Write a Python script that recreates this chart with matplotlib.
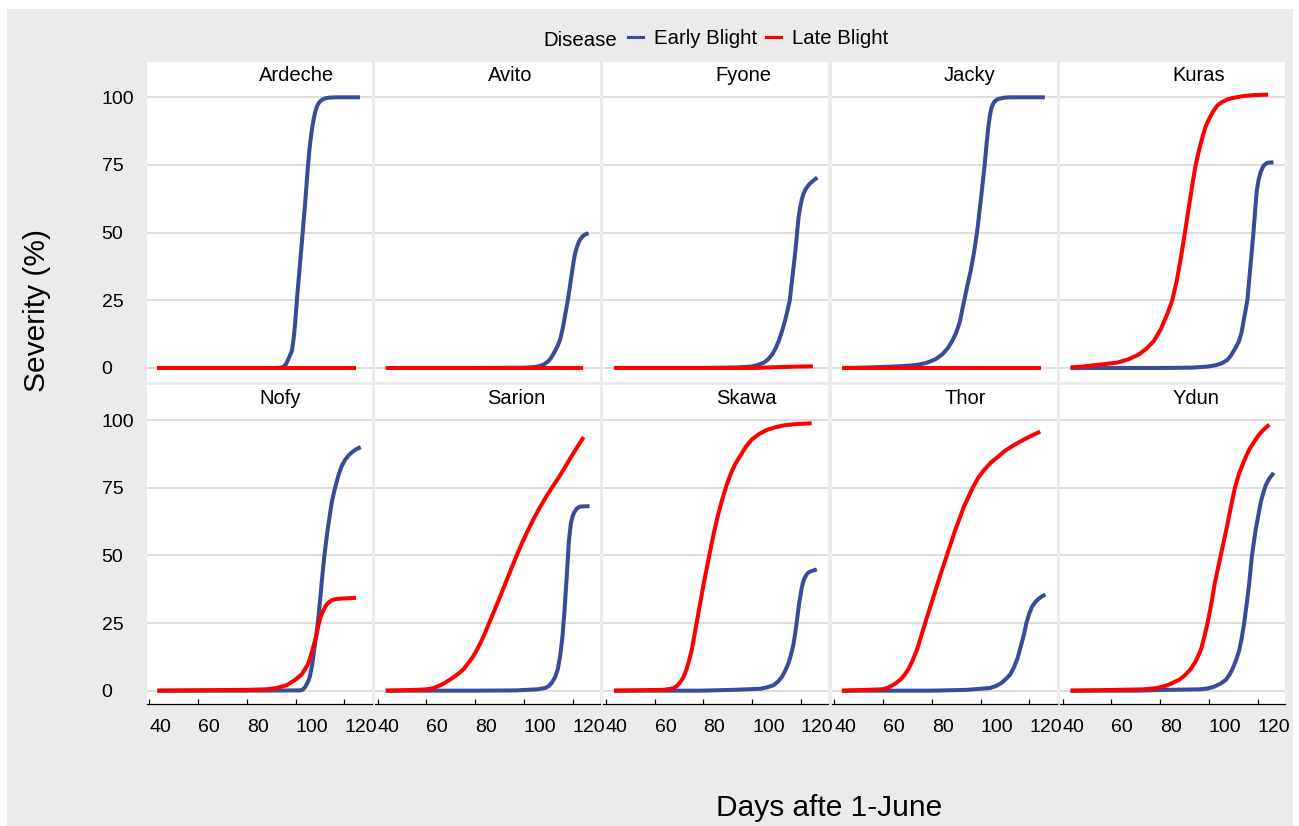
import matplotlib
matplotlib.use('Agg')
import matplotlib.pyplot as plt
from matplotlib.patches import Rectangle
from matplotlib.lines import Line2D
import matplotlib.transforms as mtransforms

plt.rcParams['font.family'] = ['Liberation Sans', 'DejaVu Sans']

# ---------------- data ----------------
varieties = ['Ardeche', 'Avito', 'Fyone', 'Jacky', 'Kuras',
             'Nofy', 'Sarion', 'Skawa', 'Thor', 'Ydun']
diseases = ['Early Blight', 'Late Blight']
x_ticks = [40, 60, 80, 100, 120]
y_ticks = [0, 25, 50, 75, 100]

ardeche_eb_days = [43.3, 60, 80, 90, 94, 95, 96, 97, 98.5, 99.2, 99.8, 100.5, 101.8, 102.9, 104, 105, 105.7, 106.3, 106.8, 107.3, 108, 108.8, 109.7, 111, 112.4, 114, 116, 120, 126.4]
ardeche_eb_vals = [0, 0, 0, 0, 0.1, 0.4, 1.3, 3.2, 6.4, 11, 16.3, 25, 38.5, 50, 62, 74, 81, 85.5, 88.8, 91.5, 94.5, 96.8, 98.2, 99.2, 99.7, 99.9, 100, 100, 100]
ardeche_lb_days = [43.3, 80, 124.8]
ardeche_lb_vals = [0, 0, 0]

avito_eb_days = [43.3, 80, 100, 104, 106, 108, 110, 111, 112, 113, 114, 115, 116, 117, 118, 119, 120, 120.5, 121, 121.5, 122, 122.5, 123, 124, 125, 126.5]
avito_eb_vals = [0, 0, 0.1, 0.3, 0.6, 1.2, 2.5, 3.5, 5, 6.7, 8.5, 11, 15, 20, 25, 31, 37, 40, 42.3, 44, 45.3, 46.5, 47.4, 48.6, 49.3, 49.8]
avito_lb_days = [43.3, 80, 124.4]
avito_lb_vals = [0, 0, 0]

fyone_eb_days = [43.3, 80, 94, 99.4, 102, 104.8, 106.5, 108.2, 109.6, 110.9, 112, 113, 114.3, 115.4, 117.3, 118, 118.5, 119, 119.6, 120.3, 121, 122, 123.3, 125, 126.7]
fyone_eb_vals = [0, 0, 0.2, 0.5, 1, 2, 3.2, 5, 7.3, 10, 13, 16, 20.5, 25, 40, 46, 51, 55.5, 59, 62.2, 64.3, 66.2, 67.8, 69.2, 70.4]
fyone_lb_days = [43.3, 100, 104, 110, 118, 124.9]
fyone_lb_vals = [0, 0, 0.1, 0.3, 0.5, 0.6]

jacky_eb_days = [43.3, 50, 55, 63.1, 68, 72.7, 75.5, 78.2, 81.5, 84.3, 86.5, 88.4, 90, 91.5, 93.2, 94.5, 96, 97.4, 98.7, 100.3, 101.7, 102.5, 103.2, 103.8, 104.4, 105, 105.8, 107, 108.3, 110, 112, 126.4]
jacky_eb_vals = [0, 0.1, 0.2, 0.5, 0.7, 1, 1.4, 2, 3.2, 5, 7.2, 10, 13, 17, 24.5, 30, 36, 43, 51, 63.5, 75, 83, 89, 93, 95.8, 97.3, 98.5, 99.3, 99.6, 99.9, 100, 100]
jacky_lb_days = [43.3, 80, 124.7]
jacky_lb_vals = [0, 0, 0]

kuras_eb_days = [43.3, 80, 92.5, 99.4, 102.8, 105.5, 107.6, 109, 110, 111.3, 112.4, 113.4, 114.2, 115, 115.8, 117.1, 118.3, 119, 119.6, 120.4, 121.3, 122.5, 124, 126.5]
kuras_eb_vals = [0, 0, 0.1, 0.5, 1, 1.8, 3, 4.5, 6, 8, 10, 13, 17, 21, 25, 38, 50, 58, 65, 69.5, 72.5, 74.8, 75.8, 76]
kuras_lb_days = [43.3, 48, 52.9, 58, 62.5, 67, 71.3, 74.5, 77.5, 80.3, 83, 85, 86.8, 88.4, 90.2, 91.9, 93.3, 94.6, 96, 97.3, 98.6, 100.1, 101.8, 103.5, 105.5, 107.6, 110, 114.4, 118, 124.3]
kuras_lb_vals = [0.2, 0.5, 1, 1.5, 2, 3.2, 5, 7.2, 10, 14.3, 20, 25, 32, 40, 50, 60, 68, 75, 80.5, 85, 89, 92, 94.8, 97, 98.3, 99.2, 99.8, 100.5, 100.8, 101]

nofy_eb_days = [43.3, 80, 101.8, 102.6, 103.2, 104, 104.5, 105.2, 105.9, 106.8, 107.6, 108.4, 109.1, 110, 110.7, 111.8, 113.2, 114.9, 116.2, 117.7, 118.9, 120.3, 121.8, 123.4, 125, 126.7]
nofy_eb_vals = [0, 0, 0.1, 0.3, 0.6, 1.5, 2.3, 3.5, 5.5, 9.5, 15, 20, 25, 33, 40, 50, 60, 70, 75, 80, 83, 85.3, 87, 88.3, 89.3, 90]
nofy_lb_days = [43.3, 67.6, 80, 88.1, 92.2, 96.3, 99.8, 102.5, 105.2, 106.9, 108.4, 109.2, 110, 111, 112.1, 113, 114.1, 115.3, 116.9, 120, 124.8]
nofy_lb_vals = [0, 0.2, 0.3, 0.5, 1, 2, 4, 6, 10, 15, 20, 23.5, 26.6, 29, 30.9, 32.1, 33, 33.6, 33.9, 34.1, 34.3]

sarion_eb_days = [43.3, 80, 97, 105.4, 108.8, 110.3, 111.5, 112.8, 113.9, 114.9, 115.8, 116.6, 117.4, 118, 118.4, 118.9, 119.3, 120, 120.7, 121.7, 122.9, 126.9]
sarion_eb_vals = [0, 0, 0.1, 0.5, 1, 1.8, 3, 5, 8, 13, 20, 29, 40, 48.5, 55, 59, 62, 64.5, 66, 67.3, 68, 68.2]
sarion_lb_days = [43.4, 56.1, 60.2, 63, 65.7, 67.8, 69.5, 71.2, 73.3, 75.3, 77, 78.7, 80.4, 82.1, 83.8, 85.5, 87.6, 89.7, 91.8, 93.8, 95.5, 97.2, 99.2, 101.3, 103.7, 106.1, 107.8, 109.5, 112, 115, 117.2, 119.5, 122, 124.5]
sarion_lb_vals = [0, 0.3, 0.5, 1, 2, 3, 4, 5, 6.4, 8, 10, 12, 14.5, 17.5, 20.8, 24.5, 29, 33.6, 38.3, 42.8, 46.6, 50.3, 54.5, 58.6, 63, 67, 69.6, 72.2, 75.7, 79.8, 83.1, 86.6, 90.2, 93.7]

skawa_eb_days = [43.3, 78.6, 92.3, 103.2, 106, 108.7, 110.5, 112.1, 113.5, 114.8, 115.9, 116.9, 117.6, 118.2, 119.2, 120.3, 121, 121.7, 122.6, 123.7, 126.5]
skawa_eb_vals = [0, 0, 0.3, 0.7, 1.2, 2, 3.3, 5, 7.3, 10, 13.3, 17, 21, 25, 32, 38, 40.5, 42, 43.3, 44, 44.8]
skawa_lb_days = [43.3, 63.5, 66, 67.9, 69.2, 70.4, 71.8, 73.1, 74.2, 75.2, 76.2, 77.2, 78.7, 80.2, 81.3, 82.4, 83.5, 84.7, 86, 87.5, 89.5, 91.6, 93.2, 95, 97.3, 99.8, 102.8, 105.9, 109, 112.8, 118, 124.4]
skawa_lb_vals = [0, 0.3, 0.6, 1, 1.8, 3, 5, 8, 11.5, 15, 20, 25, 32.5, 40, 45, 50, 55, 60, 65, 70, 76, 81, 84, 86.6, 90, 92.8, 94.8, 96.3, 97.2, 98, 98.5, 98.8]

thor_eb_days = [43.3, 80, 94.4, 104, 106.5, 108.8, 110.6, 112.2, 113.8, 115.2, 116.1, 117, 118, 118.8, 120, 121.1, 122.5, 123.9, 125.3, 126.6]
thor_eb_vals = [0, 0, 0.3, 1, 1.8, 3, 4.5, 6, 8.8, 12, 15, 18, 21.5, 25, 28.5, 31, 32.8, 34, 34.9, 35.5]
thor_lb_days = [43.1, 59.6, 61.4, 63, 65, 67.1, 68.8, 70.5, 72.2, 73.9, 75.6, 77.3, 79.4, 81.5, 83.8, 86.2, 89.5, 93.2, 96.8, 99, 101.3, 104.3, 107.4, 110, 112.9, 116, 119.1, 121.8, 124.5]
thor_lb_vals = [0, 0.5, 0.9, 1.5, 2.6, 4, 5.8, 8, 11.3, 15, 20, 25, 31, 37, 43.5, 50, 59, 68, 75, 78.6, 81.4, 84.3, 86.6, 88.6, 90.3, 91.9, 93.4, 94.6, 95.7]

ydun_eb_days = [43.3, 70, 83, 96.7, 100, 102.2, 104.8, 107, 108.4, 109.7, 111.2, 112.5, 113.5, 114.5, 115.6, 116.6, 117.7, 119.3, 121.4, 122.4, 123.4, 125, 126.6]
ydun_eb_vals = [0, 0, 0.3, 0.5, 0.9, 1.5, 2.6, 4, 5.8, 8, 11.3, 15, 19.5, 25, 32.5, 40, 50, 60, 70, 73.3, 76, 78.6, 80.5]
ydun_lb_days = [43.3, 62.5, 73.4, 78.9, 83, 87.8, 90.3, 92.6, 94.7, 96.7, 98.2, 99.5, 101, 102.5, 103.7, 104.9, 107.3, 109.3, 110.7, 112.5, 114.5, 116.5, 118.6, 120.3, 122, 123.5, 124.8]
ydun_lb_vals = [0, 0.3, 0.5, 1, 2, 4, 5.8, 8, 11, 15, 20, 25, 32, 40, 45, 50, 60, 69, 75, 80.5, 85, 89, 92, 94.3, 96, 97.3, 98.3]

series = {
    'Ardeche': ((ardeche_eb_days, ardeche_eb_vals), (ardeche_lb_days, ardeche_lb_vals)),
    'Avito': ((avito_eb_days, avito_eb_vals), (avito_lb_days, avito_lb_vals)),
    'Fyone': ((fyone_eb_days, fyone_eb_vals), (fyone_lb_days, fyone_lb_vals)),
    'Jacky': ((jacky_eb_days, jacky_eb_vals), (jacky_lb_days, jacky_lb_vals)),
    'Kuras': ((kuras_eb_days, kuras_eb_vals), (kuras_lb_days, kuras_lb_vals)),
    'Nofy': ((nofy_eb_days, nofy_eb_vals), (nofy_lb_days, nofy_lb_vals)),
    'Sarion': ((sarion_eb_days, sarion_eb_vals), (sarion_lb_days, sarion_lb_vals)),
    'Skawa': ((skawa_eb_days, skawa_eb_vals), (skawa_lb_days, skawa_lb_vals)),
    'Thor': ((thor_eb_days, thor_eb_vals), (thor_lb_days, thor_lb_vals)),
    'Ydun': ((ydun_eb_days, ydun_eb_vals), (ydun_lb_days, ydun_lb_vals)),
}

# ---------------- style ----------------
colors = ['#3A4B9A', '#FF0000']
W, H = 1299, 826
BG = '#EBEBEB'
GRID = '#D3D3D3'

fig = plt.figure(figsize=(W / 100, H / 100), dpi=100)
fig.patch.set_facecolor('white')
fig.patches.append(Rectangle((7 / W, 0), (1293 - 7) / W, (H - 9) / H,
                             transform=fig.transFigure, facecolor=BG,
                             edgecolor='none', zorder=-10))

panel_w, panel_h = 225.0, 319.5
col_step = 228.3
row_tops = [62.0, 384.7]

for i, name in enumerate(varieties):
    r, c = divmod(i, 5)
    left = 146.7 + c * col_step
    top = row_tops[r]
    ax = fig.add_axes([left / W, 1 - (top + panel_h) / H, panel_w / W, panel_h / H])
    ax.set_zorder(1)
    ax.set_facecolor('white')
    ax.set_xlim(38.93, 131.2)
    ax.set_ylim(-5, 113.05)
    ax.set_yticks(y_ticks)
    ax.set_xticks(x_ticks)
    ax.yaxis.grid(True, color=GRID, linewidth=1.1)
    ax.xaxis.grid(False)
    ax.set_axisbelow(True)
    for s in ['top', 'right', 'left']:
        ax.spines[s].set_visible(False)

    for k, (days, vals) in enumerate(series[name]):
        ax.plot(days, vals, color=colors[k], lw=2.9, solid_capstyle='butt',
                solid_joinstyle='round', zorder=3 + k)

    trans = mtransforms.blended_transform_factory(ax.transAxes, ax.transData)
    ax.text(0.5, 106.0, name, transform=trans, ha='left', va='baseline',
            fontsize=14.5, color='black')

    # y axis
    if c == 0:
        ax.set_yticklabels([str(t) for t in y_ticks])
        ax.tick_params(axis='y', length=0, pad=32.4, labelsize=14, labelcolor='black')
        for lab in ax.get_yticklabels():
            lab.set_horizontalalignment('left')
    else:
        ax.tick_params(axis='y', length=0, labelleft=False)

    # x axis
    if r == 1:
        ax.spines['bottom'].set_color('black')
        ax.spines['bottom'].set_linewidth(0.9)
        ax.set_xticklabels([str(t) for t in x_ticks])
        ax.tick_params(axis='x', direction='in', length=3.8, width=0.9,
                       pad=11, labelsize=14, labelcolor='black')
        for lab in ax.get_xticklabels():
            lab.set_horizontalalignment('left')
    else:
        ax.spines['bottom'].set_visible(False)
        ax.tick_params(axis='x', bottom=False, labelbottom=False)

# legend
handles = [Line2D([], [], color=colors[k], lw=2.2) for k in range(2)]
fig.legend(handles, diseases, ncol=2, loc='center left',
           bbox_to_anchor=(628 / W, 1 - 39.0 / H), frameon=False,
           fontsize=14.7, handlelength=0.72, handletextpad=0.55,
           columnspacing=0.46, borderpad=0, borderaxespad=0)
fig.text(543.3 / W, 1 - 45.7 / H, 'Disease', ha='left', va='baseline', fontsize=14.7)

# axis titles
fig.text(716 / W, 1 - 816 / H, 'Days afte 1-June', ha='left', va='baseline', fontsize=21.5)
fig.text(37 / W, 1 - 392 / H, 'Severity (%)', rotation=90, ha='center', va='bottom', fontsize=21.5)

fig.savefig('out.png', dpi=100, facecolor=fig.get_facecolor())
